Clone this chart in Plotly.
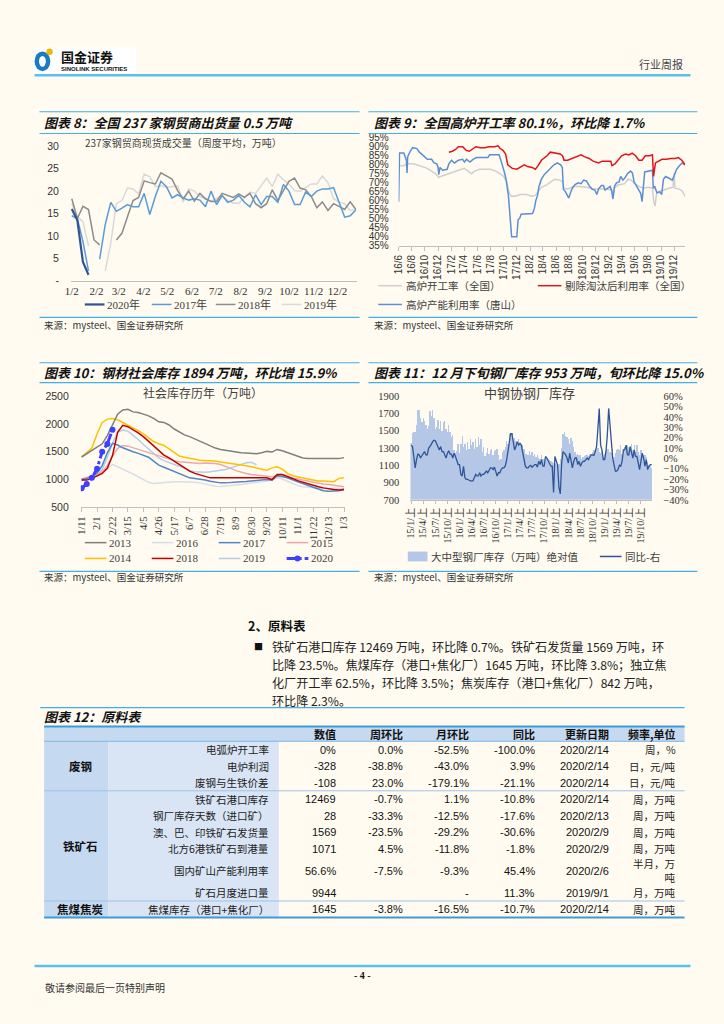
import plotly.graph_objects as go
import pandas as pd

# ====================== DATA ======================
# Chart 8: 237 steel traders weekly volume (10k t), weekly from 1/2
c8_start = "2017-01-02"
c8_ticklabel_dates = ["2017-01-02", "2017-02-02", "2017-03-02", "2017-04-02", "2017-05-02", "2017-06-02",
                      "2017-07-02", "2017-08-02", "2017-09-02", "2017-10-02", "2017-11-02", "2017-12-02"]
c8_2020 = [16.0, 13.5, 4.2, 1.3]
c8_2017 = [14.5, 13.9, 8.8, 2.2, None, 4.8, 12.5, 17.5, 15.5, 16.2, 17.0, 16.5, 16.5, 19.5, 14.8, 18.8,
           22.2, 21.0, 18.5, 19.2, 18.5, 18.0, 18.3, 18.0, 16.5, 20.0, 17.0, 19.0, 17.5, 18.0, 19.0, 17.5,
           16.5, 19.2, 17.0, 18.8, 18.8, 17.5, 21.5, 20.0, 17.0, 17.0, 19.8, 18.8, 20.0, 20.5, 20.5, 20.8,
           17.5, 14.2, 14.5, 15.8]
c8_2018 = [18.3, 13.9, 16.6, 15.9, 9.1, 8.0, None, None, 9.1, 10.6, 14.3, 17.9, 18.6, 22.3, 21.9, 21.6,
           24.1, 23.4, 22.7, 20.1, 18.3, 20.0, 17.8, 19.5, 18.3, 17.7, 17.7, 19.5, 19.0, 18.6, 19.4, 18.6,
           19.5, 17.2, 16.3, 17.2, 20.3, 17.9, 20.1, 22.2, 22.9, 20.7, 20.3, 18.8, 16.3, 17.6, 15.7, 17.2,
           16.6, 15.9, 17.6, 15.9]
c8_2019 = [17.2, 14.3, 13.2, 7.8, None, None, 2.2, 8.4, 17.2, 17.9, 20.7, 20.5, 19.4, 23.8, 23.2, 21.0,
           21.2, 20.8, 21.0, 21.2, 17.6, 20.5, 20.0, 18.8, 18.3, 17.8, 18.3, 19.0, 17.9, 17.3, 17.3, 18.6,
           19.8, 19.5, 21.2, 22.9, 21.0, 23.8, 22.5, 21.6, 20.1, 20.0, 20.8, 21.6, 21.6, 23.4, 21.9, 18.3,
           17.6, 17.2, 15.7, 15.9]

# Chart 9: blast furnace rates (%)
c9_ts_dates = ["2016-06-01", "2016-06-05", "2016-06-25", "2016-07-01", "2016-07-07", "2016-07-10", "2016-07-13",
               "2016-07-25", "2016-08-05", "2016-08-25", "2016-09-05", "2016-09-20", "2016-10-01", "2016-10-12",
               "2016-11-01", "2016-11-12", "2016-11-25", "2016-12-01", "2016-12-04", "2016-12-10", "2016-12-22",
               "2017-01-12", "2017-01-20", "2017-02-01", "2017-02-15", "2017-03-05", "2017-03-25", "2017-04-02",
               "2017-04-12", "2017-04-28", "2017-05-12", "2017-05-28", "2017-07-20", "2017-07-28", "2017-09-10",
               "2017-09-15", "2017-09-23", "2017-10-04", "2017-10-12", "2017-10-23", "2017-11-01", "2017-11-07",
               "2017-12-01", "2017-12-07", "2017-12-15", "2017-12-21", "2018-02-12", "2018-02-20", "2018-02-27",
               "2018-03-07", "2018-03-13", "2018-03-25", "2018-04-07", "2018-04-22", "2018-05-07", "2018-05-22",
               "2018-06-07", "2018-06-22", "2018-06-30", "2018-07-05", "2018-07-15", "2018-07-23", "2018-07-30",
               "2018-08-07", "2018-08-15", "2018-08-28", "2018-09-12", "2018-09-25", "2018-10-07", "2018-10-20",
               "2018-11-01", "2018-11-15", "2018-11-28", "2018-12-07", "2018-12-15", "2018-12-28", "2019-01-07",
               "2019-01-14", "2019-01-25", "2019-02-07", "2019-02-14", "2019-02-20", "2019-02-27", "2019-03-08",
               "2019-03-20", "2019-03-28", "2019-04-07", "2019-04-15", "2019-04-28", "2019-05-12", "2019-05-21",
               "2019-05-29", "2019-06-10", "2019-06-20", "2019-06-29", "2019-07-05", "2019-07-11", "2019-07-17",
               "2019-08-22", "2019-08-26", "2019-09-01", "2019-09-12", "2019-09-25", "2019-10-04", "2019-10-12",
               "2019-10-22", "2019-11-07", "2019-11-22", "2019-12-01", "2019-12-12", "2019-12-25", "2020-01-07",
               "2020-01-20"]
c9_ts_vals = [59.5, 86.5, 86.5, 84.5, 82.5, 75.5, 84.5, 87.5, 89.5, 89, 87, 85.5, 84.5, 83, 83, 81, 80.5, 78.5,
              74.5, 78.5, 77, 77.5, 80.5, 82.5, 81, 82.5, 83, 81.5, 83, 81.5, 83, 84, 84, 85.5, 85.5, 84, 80.5,
              76, 72, 63, 48, 40, 40, 49.5, 50.5, 52.5, 53, 55.5, 60, 63, 67.5, 72, 74.5, 76.5, 78.5, 80, 81, 80,
              78.5, 66.5, 65, 63, 61.5, 64.5, 67, 69, 70, 69.5, 71.5, 71, 68.5, 66.5, 66, 63.5, 66.5, 68.5, 68.5,
              66, 67, 68, 65.5, 61, 68, 70, 70.5, 73.5, 71.5, 72.5, 75, 76.5, 75.5, 70.5, 68, 65.5, 64, 59.5, 69,
              76, 77, 67, 68, 64.5, 65, 63.5, 72, 73.5, 72.5, 71.5, 74, 77.5, 79.5, 81, 80]
c9_all_dates = ["2016-06-01", "2016-06-25", "2016-07-10", "2016-08-05", "2016-08-25", "2016-09-20", "2016-10-12",
                "2016-11-01", "2016-11-20", "2016-12-04", "2016-12-12", "2017-01-05", "2017-02-01", "2017-03-01",
                "2017-04-01", "2017-04-20", "2017-05-05", "2017-05-20", "2017-06-10", "2017-08-01", "2017-08-25",
                "2017-09-15", "2017-10-01", "2017-10-15", "2017-10-25", "2017-11-05", "2017-11-25", "2017-12-15",
                "2018-01-15", "2018-02-10", "2018-02-25", "2018-03-10", "2018-03-25", "2018-04-20", "2018-05-10",
                "2018-05-25", "2018-06-20", "2018-07-01", "2018-07-08", "2018-07-25", "2018-08-20", "2018-09-20",
                "2018-10-20", "2018-11-20", "2018-12-20", "2019-01-20", "2019-02-14", "2019-02-20", "2019-02-27",
                "2019-03-15", "2019-04-15", "2019-05-01", "2019-05-15", "2019-06-01", "2019-06-20", "2019-07-10",
                "2019-08-05", "2019-08-22", "2019-08-28", "2019-09-03", "2019-09-10", "2019-09-25", "2019-10-15",
                "2019-11-05", "2019-11-25", "2019-12-01", "2019-12-04", "2019-12-25", "2020-01-07", "2020-01-20"]
c9_all_vals = [79.5, 79.5, 80.5, 80.5, 80, 79, 78, 76.5, 75, 73, 73.5, 74.5, 75.5, 76.5, 78, 76.5, 75, 76.5, 77.5,
               77.5, 76.5, 75, 73.5, 70.5, 65, 62.5, 62.5, 63.5, 63.5, 62.5, 63, 65, 67.5, 69, 71, 72, 71.5, 70.5,
               67, 66.5, 68, 68, 67.5, 66.5, 66.5, 66.5, 66, 63.5, 67, 68.8, 69.5, 72, 71.5, 69.5, 68, 67, 67.5, 67,
               59.5, 57, 64, 65.5, 66, 67, 67.5, 75.5, 67, 66.5, 65.5, 62.5]
c9_ex_dates = ["2017-01-20", "2017-02-05", "2017-02-20", "2017-03-05", "2017-03-25", "2017-04-10", "2017-04-25",
               "2017-05-10", "2017-05-25", "2017-06-15", "2017-07-05", "2017-07-25", "2017-08-20", "2017-09-05",
               "2017-09-15", "2017-09-28", "2017-10-10", "2017-10-20", "2017-11-10", "2017-12-01", "2017-12-20",
               "2018-01-05", "2018-01-20", "2018-02-10", "2018-02-25", "2018-03-10", "2018-03-25", "2018-04-20",
               "2018-05-05", "2018-05-25", "2018-06-20", "2018-07-01", "2018-07-08", "2018-07-25", "2018-08-15",
               "2018-09-10", "2018-09-25", "2018-10-10", "2018-11-01", "2018-11-20", "2018-12-15", "2019-01-01",
               "2019-01-20", "2019-02-10", "2019-02-15", "2019-03-01", "2019-03-15", "2019-04-01", "2019-04-20",
               "2019-05-05", "2019-05-20", "2019-06-05", "2019-06-20", "2019-07-05", "2019-07-20", "2019-08-10",
               "2019-08-22", "2019-08-27", "2019-09-05", "2019-09-20", "2019-10-05", "2019-10-25", "2019-11-15",
               "2019-12-05", "2019-12-20", "2020-01-05", "2020-01-20"]
c9_ex_vals = [87, 87.5, 88.5, 90, 90, 88, 87.5, 89, 90, 89.5, 89.5, 90, 90, 90.5, 89, 88, 86, 80, 78, 77.5, 79, 80,
              79, 78.5, 77.5, 79.5, 82.5, 85, 87, 86.5, 86, 85, 82.5, 82.5, 83.5, 84.5, 85.5, 84.5, 83.5, 82, 81,
              82, 82, 82, 79.5, 80.5, 82.5, 85, 86, 85.5, 86.5, 85, 82.5, 82.5, 85, 85, 85.5, 73.5, 81, 82, 83, 83,
              83.5, 83.5, 84, 82.5, 80]
c9_tick_start, c9_tick_end = "2016-06-01", "2019-12-01"

# Chart 10: social steel inventory by year (10k t), weekly
c10_ticklabels = ["1/11", "2/1", "2/22", "3/15", "4/5", "4/26", "5/17", "6/7", "6/28", "7/19", "8/9", "8/30",
                  "9/20", "10/11", "11/1", "11/22", "12/13", "1/3"]
c10_2013 = [1405, 1464, 1524, 1583, 1642, 1790, 1997, 2175, 2251, 2263, 2216, 2204, 2175, 2145, 2098, 2038, 2027,
            1980, 1908, 1849, 1802, 1772, 1731, 1683, 1642, 1601, 1565, 1541, 1524, 1506, 1494, 1482, 1476, 1465,
            1465, 1482, 1506, 1494, 1541, 1518, 1482, 1447, 1411, 1388, 1376, 1376, 1370, 1364, 1364, 1364, 1376,
            1394]
c10_2014 = [1405, 1482, 1565, 1820, 2027, 2086, 2098, 2074, 2027, 1968, 1920, 1879, 1820, 1743, 1683, 1642, 1612,
            1553, 1482, 1423, 1400, 1388, 1364, 1346, 1346, 1346, 1334, 1317, 1305, 1287, 1269, 1257, 1246, 1228,
            1210, 1186, 1169, 1210, 1228, 1186, 1110, 1068, 1044, 1033, 1009, 991, 973, 973, 973, 962, 1021, 1033]
c10_2015 = [1010, 1030, 1060, 1100, 1140, 1250, 1420, 1560, 1610, 1600, 1570, 1540, 1510, 1480, 1450, 1420, 1390,
            1360, 1340, 1320, 1310, 1300, 1295, 1290, 1295, 1295, 1290, 1270, 1240, 1200, 1160, 1130, 1110, 1090,
            1080, 1070, 1060, 1050, 1060, 1050, 1040, 1030, 1010, 990, 970, 950, 930, 920, 910, 900, 880, 870]
c10_2016 = [1000, 1010, 1030, 1060, 1120, 1200, 1270, 1230, 1190, 1150, 1100, 1050, 1000, 950, 930, 940, 950, 955,
            960, 960, 960, 955, 950, 940, 920, 900, 880, 875, 880, 890, 900, 910, 920, 930, 940, 960, 975, 990,
            1030, 1010, 970, 930, 890, 870, 860, 850, 845, 840, 838, 835, 835, 835]
c10_2017 = [1000, 1020, 1060, 1120, 1250, 1480, 1650, 1620, 1570, 1530, 1500, 1470, 1440, 1400, 1330, 1260, 1220,
            1180, 1140, 1100, 1060, 1030, 1020, 1010, 990, 970, 950, 940, 940, 950, 960, 960, 965, 970, 980, 990,
            1000, 990, 1070, 1060, 1030, 990, 960, 930, 890, 860, 830, 800, 790, 790, 800, 830]
c10_2018 = [990, 990, 1020, 1060, 1110, 1200, 1430, 1850, 1975, 1950, 1900, 1840, 1770, 1690, 1600, 1520, 1440,
            1390, 1330, 1260, 1200, 1150, 1110, 1080, 1050, 1030, 1030, 1030, 1020, 1020, 1020, 1020, 1030, 1030,
            1020, 1030, 1030, 1000, 1090, 1090, 1060, 1020, 980, 950, 920, 890, 870, 850, 830, 820, 810, 815]
c10_2019 = [980, 1000, 1030, 1080, 1180, 1400, 1650, 1850, 1890, 1870, 1800, 1720, 1630, 1550, 1470, 1390, 1340,
            1300, 1270, 1240, 1200, 1160, 1140, 1130, 1130, 1140, 1150, 1160, 1180, 1210, 1240, 1270, 1300, 1310,
            1265]
c10_2020 = [843, 920, 1030, 1195, 1500, 1640, 1894]

# Chart 11: CISA mill inventory (10k t, dekadal) and YoY (%)
c11_ticklabels = ["15/1/上", "15/4/上", "15/7/上", "15/10/上", "16/1/上", "16/4/上", "16/7/上", "16/10/上",
                  "17/1/上", "17/4/上", "17/7/上", "17/10/上", "18/1/上", "18/4/上", "18/7/上", "18/10/上",
                  "19/1/上", "19/4/上", "19/7/上", "19/10/上"]
c11_stock = [1360, 1470, 1480, 1480, 1560, 1740, 1740, 1650, 1595, 1650, 1614, 1560, 1519, 1557, 1729,
             1664, 1740, 1641, 1519, 1538, 1626, 1519, 1614, 1500, 1595, 1614, 1519, 1481, 1560, 1481,
             1424, 1450, 1271, 1245, 1260, 1348, 1245, 1348, 1443, 1309, 1348, 1271, 1367, 1290, 1405,
             1329, 1367, 1290, 1405, 1309, 1424, 1329, 1400, 1252, 1309, 1207, 1245, 1300, 1233, 1271,
             1290, 1222, 1260, 1271, 1290, 1222, 1157, 1176, 1250, 1271, 1309, 1386, 1348, 1462, 1420,
             1473, 1405, 1420, 1386, 1348, 1400, 1348, 1309, 1330, 1290, 1233, 1233, 1214, 1260, 1222,
             1252, 1207, 1233, 1195, 1214, 1180, 1176, 1214, 1176, 1169, 1157, 1180, 1176, 1157, 1145,
             1138, 1130, 1119, 1108, 1092, 1119, 1176, 1300, 1462, 1481, 1443, 1424, 1405, 1348, 1420,
             1380, 1309, 1250, 1214, 1233, 1214, 1214, 1176, 1200, 1207, 1214, 1222, 1207, 1233, 1230,
             1252, 1271, 1290, 1290, 1300, 1250, 1240, 1270, 1200, 1230, 1260, 1290, 1290, 1250, 1240,
             1290, 1195, 1240, 1271, 1290, 1271, 1329, 1233, 1290, 1309, 1271, 1336, 1309, 1290, 1348,
             1271, 1329, 1252, 1329, 1252, 1214, 1271, 1207, 1214, 1214, 1195, 1138, 1108, 1090, 1070]
c11_yoy = [12.8, 11.3, 1.8, -9.2, -1.3, 4.0, 3.4, 0.3, 2.5, 5.0, 6.5, 3.4, 3.4, 9.7, 11.3,
           13.5, 16.0, 17.5, 17.0, 14.4, 11.3, 8.1, 11.3, 6.5, 6.5, 3.4, 0.3, 5.0, 7.2, 4.0,
           4.0, 0.3, 5.0, 1.8, -2.9, -6.0, -6.0, -15.5, -17.0, -7.6, -18.6, -20.2, -20.2, -21.1, -21.8,
           -21.8, -21.8, -18.6, -15.5, -17.0, -17.0, -13.9, -17.0, -15.5, -15.5, -13.9, -12.3, -13.9, -10.8, -9.2,
           -9.2, -10.8, -8.5, -12.0, -17.0, -13.9, -13.9, -10.8, -9.2, -9.2, -7.6, -2.3, 6.5, 12.8, 23.8,
           23.8, 14.4, 8.1, 11.3, 16.0, 12.8, 14.4, 12.8, 5.0, 0.3, -7.6, -9.2, -9.2, -7.6, -6.7,
           -8.5, -6.7, -6.0, -6.0, -8.5, -2.9, -6.0, -1.3, -7.6, -7.6, 1.8, 0.3, -2.9, -6.0, -7.6,
           -7.6, -32.8, 1.8, -2.9, -6.7, -28.1, -34.3, -5.0, 6.5, 5.0, 3.4, 0.3, -4.5, 5.0, -2.0,
           -9.2, -2.9, 0.3, 0.3, -6.0, -2.9, -7.6, -4.5, -2.9, -2.9, -1.3, 0.3, -1.3, 1.8, 3.4,
           3.4, 2.8, 6.5, 11.3, 28.6, 48.1, 12.8, 8.1, -1.3, -1.3, 6.5, 22.3, 48.1, 28.6, 9.7,
           0.3, -6.0, -12.3, -12.3, -10.8, -6.7, -7.6, -2.9, 8.1, 8.1, 12.8, 3.4, 3.4, 11.3, 6.5,
           0.3, 8.1, 1.8, 1.8, -4.5, -10.8, -3.0, 5.0, 0.3, -7.6, -1.3, -10.8, -7.6, -6.0, -6.0]

# Table 12: raw materials
t_header = ["数值", "周环比", "月环比", "同比", "更新日期", "频率,单位"]
t_names = ["电弧炉开工率", "电炉利润", "废钢与生铁价差", "铁矿石港口库存", "钢厂库存天数（进口矿）",
           "澳、巴、印铁矿石发货量", "北方6港铁矿石到港量", "国内矿山产能利用率", "矿石月度进口量",
           "焦煤库存（港口+焦化厂）"]
t_value = ["0%", "-328", "-108", "12469", "28", "1569", "1071", "56.6%", "9944", "1645"]
t_wow = ["0.0%", "-38.8%", "23.0%", "-0.7%", "-33.3%", "-23.5%", "4.5%", "-7.5%", "", "-3.8%"]
t_mom = ["-52.5%", "-43.0%", "-179.1%", "1.1%", "-12.5%", "-29.2%", "-11.8%", "-9.3%", "-", "-16.5%"]
t_yoy = ["-100.0%", "3.9%", "-21.1%", "-10.8%", "-17.6%", "-30.6%", "-1.8%", "45.4%", "11.3%", "-10.7%"]
t_date = ["2020/2/14", "2020/2/14", "2020/2/14", "2020/2/14", "2020/2/13", "2020/2/9", "2020/2/9",
          "2020/2/6", "2019/9/1", "2020/2/14"]
t_unit = ["周，%", "日，元/吨", "日，元/吨", "周，万吨", "周，万吨", "周，万吨", "周，万吨", "半月，万<br>吨",
          "月，万吨", "周，万吨"]
t_groups = [("废钢", 0, 3), ("铁矿石", 3, 9), ("焦煤焦炭", 9, 10)]

para_lines = ["铁矿石港口库存 12469 万吨，环比降 0.7%。铁矿石发货量 1569 万吨，环",
              "比降 23.5%。焦煤库存（港口+焦化厂）1645 万吨，环比降 3.8%；独立焦",
              "化厂开工率 62.5%，环比降 3.5%；焦炭库存（港口+焦化厂）842 万吨，",
              "环比降 2.3%。"]

# ====================== STYLE / HELPERS ======================
W, H = 724, 1024
BG = "#FFFBF0"
CJK = "Noto Sans CJK SC"
SANS = "Liberation Sans, Noto Sans CJK SC"
SERIF = "Liberation Serif, Noto Sans CJK SC"
RULE = "#45AEE3"
TXT = "#333333"
AXC = "#BFBFBF"


def X(px):
    return px / W


def Y(py):
    return 1 - py / H


shapes, annots = [], []


def hline(x0, x1, y, color=RULE, width=1.0, dash="solid"):
    shapes.append(dict(type="line", xref="paper", yref="paper", x0=X(x0), x1=X(x1), y0=Y(y), y1=Y(y),
                       line=dict(color=color, width=width, dash=dash)))


def rect(x0, y0, x1, y1, fill):
    shapes.append(dict(type="rect", xref="paper", yref="paper", x0=X(x0), x1=X(x1), y0=Y(y1), y1=Y(y0),
                       fillcolor=fill, line=dict(width=0), layer="below"))


def circ(x0, y0, x1, y1, fill):
    shapes.append(dict(type="circle", xref="paper", yref="paper", x0=X(x0), x1=X(x1), y0=Y(y1), y1=Y(y0),
                       fillcolor=fill, line=dict(width=0)))


def text(x, y, s, size=10, color=TXT, family=CJK, anchor="left", weight="normal", style="normal",
         align="left"):
    annots.append(dict(xref="paper", yref="paper", x=X(x), y=Y(y), text=s, showarrow=False, xanchor=anchor,
                       yanchor="middle", align=align, borderpad=0,
                       font=dict(family=family, size=size, color=color, weight=weight, style=style)))


def title(x, y, s):
    text(x, y, s, size=13, color="#111111", weight="bold", style="italic")


fig = go.Figure()

# ====================== CHART 8 ======================
c8_dates = pd.date_range(c8_start, periods=len(c8_2017), freq="7D")
c8_series = [("2019年", c8_2019, "#D9D9D9", 1.5), ("2018年", c8_2018, "#8C8C8C", 1.5),
             ("2017年", c8_2017, "#5B9BD5", 1.5), ("2020年", c8_2020, "#2F5597", 2.2)]
for nm, vals, col, wd in c8_series:
    fig.add_trace(go.Scatter(x=c8_dates[:len(vals)], y=vals, mode="lines", name=nm,
                             line=dict(color=col, width=wd), xaxis="x", yaxis="y", showlegend=False))

# ====================== CHART 9 ======================
fig.add_trace(go.Scatter(x=c9_all_dates, y=c9_all_vals, mode="lines", line=dict(color="#CFCFCF", width=1.5),
                         xaxis="x2", yaxis="y2", showlegend=False))
fig.add_trace(go.Scatter(x=c9_ts_dates, y=c9_ts_vals, mode="lines", line=dict(color="#5B8FD5", width=1.5),
                         xaxis="x2", yaxis="y2", showlegend=False))
fig.add_trace(go.Scatter(x=c9_ex_dates, y=c9_ex_vals, mode="lines", line=dict(color="#E0141E", width=1.5),
                         xaxis="x2", yaxis="y2", showlegend=False))

# ====================== CHART 10 ======================
c10_series = [("2016", c10_2016, "#D9DEE8"), ("2019", c10_2019, "#B4CDEA"), ("2015", c10_2015, "#EDA9A9"),
              ("2017", c10_2017, "#4F86C6"), ("2014", c10_2014, "#FFC000"), ("2013", c10_2013, "#7F7F7F"),
              ("2018", c10_2018, "#C00000")]
for nm, vals, col in c10_series:
    fig.add_trace(go.Scatter(x=list(range(len(vals))), y=vals, mode="lines", line=dict(color=col, width=1.5),
                             xaxis="x3", yaxis="y3", showlegend=False))
fig.add_trace(go.Scatter(x=list(range(len(c10_2020))), y=c10_2020, mode="lines+markers",
                         line=dict(color="#3F3FFF", width=3, dash="dashdot"),
                         marker=dict(color="#3F3FFF", size=6), xaxis="x3", yaxis="y3", showlegend=False))

# ====================== CHART 11 ======================
fig.add_trace(go.Bar(x=list(range(len(c11_stock))), y=c11_stock, marker=dict(color="#B4C7E7", line=dict(width=0)),
                     xaxis="x4", yaxis="y4", showlegend=False))
fig.add_trace(go.Scatter(x=list(range(len(c11_yoy))), y=c11_yoy, mode="lines", line=dict(color="#2F5597", width=1.3),
                         xaxis="x4", yaxis="y5", showlegend=False))

# ====================== AXES ======================
noaxis = dict(showgrid=False, zeroline=False)
layout_axes = dict(
    xaxis=dict(**noaxis, domain=[X(66), X(356)], anchor="y", type="date", range=["2017-01-01", "2017-12-26"],
               tickvals=c8_ticklabel_dates, tickformat="%-m/%-d", showline=True, linecolor=AXC, ticks="",
               tickfont=dict(family=SERIF, size=11, color=TXT)),
    yaxis=dict(**noaxis, domain=[Y(278), Y(142)], anchor="x", range=[0, 30], tickvals=[0, 5, 10, 15, 20, 25, 30],
               ticktext=["-", "5", "10", "15", "20", "25", "30"], ticks="outside", ticklen=9, tickcolor="rgba(0,0,0,0)",
               tickfont=dict(family=SANS, size=10.5, color=TXT)),
    xaxis2=dict(**noaxis, domain=[X(398.7), X(689.7)], anchor="y2", type="date", range=["2016-06-01", "2020-01-21"],
                tickvals=list(pd.date_range(c9_tick_start, c9_tick_end, freq="2MS")), tickformat="%y/%-m",
                tickangle=-90, showline=True, linecolor=AXC, ticks="outside", ticklen=4, tickcolor=AXC,
                tickfont=dict(family=SANS, size=10, color=TXT)),
    yaxis2=dict(**noaxis, domain=[Y(242.7), Y(133.3)], anchor="x2", range=[35, 95], dtick=5, tick0=35,
                ticksuffix="%", ticks="outside", ticklen=7, tickcolor="rgba(0,0,0,0)",
                tickfont=dict(family=SANS, size=10, color=TXT)),
    xaxis3=dict(**noaxis, domain=[X(76), X(344)], anchor="y3", range=[-0.15, 51.15],
                tickvals=[3 * i for i in range(len(c10_ticklabels))], ticktext=c10_ticklabels, tickangle=-90,
                showline=True, linecolor=AXC, ticks="outside", ticklen=4, tickcolor=AXC,
                tickfont=dict(family=SERIF, size=10.5, color=TXT)),
    yaxis3=dict(**noaxis, domain=[Y(507.3), Y(394.7)], anchor="x3", range=[500, 2500], dtick=500,
                ticks="outside", ticklen=9, tickcolor="rgba(0,0,0,0)",
                tickfont=dict(family=SANS, size=10.5, color=TXT)),
    xaxis4=dict(**noaxis, domain=[X(410.7), X(656.3)], anchor="y4", range=[-0.5, len(c11_stock) - 0.5],
                tickvals=[9 * i for i in range(len(c11_ticklabels))], ticktext=c11_ticklabels, tickangle=-90,
                showline=True, linecolor=AXC, ticks="outside", ticklen=3, tickcolor=AXC,
                tickfont=dict(family=SERIF, size=10, color=TXT)),
    yaxis4=dict(**noaxis, domain=[Y(499.7), Y(394.7)], anchor="x4", range=[700, 1900], dtick=200, tick0=700,
                ticks="outside", ticklen=8, tickcolor="rgba(0,0,0,0)",
                tickfont=dict(family=SERIF, size=10.5, color=TXT)),
    yaxis5=dict(**noaxis, overlaying="y4", side="right", anchor="x4", range=[-40, 60], dtick=10, tick0=-40,
                ticksuffix="%", ticks="outside", ticklen=8, tickcolor="rgba(0,0,0,0)",
                tickfont=dict(family=SERIF, size=10.5, color=TXT)),
)

# ====================== PAGE DECORATION ======================
# header
rect(28, 42, 132, 68, "#FFFFFF")
circ(29, 46, 45, 66, "#1A7BC4")
circ(33.5, 50.5, 40.5, 61.5, "#FFFFFF")
circ(41, 43, 47.5, 49.5, "#F2B705")
text(55, 51, "国金证券", size=13, color="#111111", weight="bold")
text(55, 63.5, "SINOLINK SECURITIES", size=6, color="#111111", family="Liberation Sans", weight="bold")
hline(29, 695, 70, color="#5BC0EB", width=2.5)
text(688, 58.5, "行业周报", size=11, color="#444444", anchor="right")
# footer
hline(29, 695, 971.5, color="#5BC0EB", width=2.5)
text(362, 980.5, "- 4 -", size=10, color="#111111", family="Liberation Serif", weight="bold", anchor="center")
text(39, 993, "敬请参阅最后一页特别声明", size=10, color="#333333")

# chart blocks
blocks = [(34, 359, 38), (368, 702, 373)]
for (bx0, bx1, tx), (ytop, ybot, ysrc_line, ysrc) in [(b, r) for r in [(107, 129, 315, 323), (361, 381, 572, 578)]
                                                      for b in blocks]:
    hline(bx0, bx1, ytop, width=1.2)
    hline(bx0, bx1, ybot, width=1.2)
    hline(bx0, bx1, ysrc_line, width=1.2)
    text(tx, ysrc, "来源：mysteel、国金证券研究所", size=9.5, color="#333333")

title(38, 118, "图表 8：全国 237 家钢贸商出货量 0.5 万吨")
title(373, 118, "图表 9：全国高炉开工率 80.1%，环比降 1.7%")
title(38, 371, "图表 10：钢材社会库存 1894 万吨，环比增 15.9%")
title(373, 371, "图表 11：12 月下旬钢厂库存 953 万吨，旬环比降 15.0%")

# chart 8 subtitle & legend
text(180, 138.5, "237家钢贸商现货成交量（周度平均，万吨）", size=10, color="#404040", anchor="center")
for i, (nm, vals, col, wd) in enumerate(reversed(c8_series)):
    lx = [80, 148, 213, 280][i]
    hline(lx, lx + 20, 302, color=col, width=wd)
    text(lx + 22, 302, nm, size=11, color="#404040", family=SERIF)

# chart 9 legend
for lx, ly, col, nm in [(378, 283, "#CFCFCF", "高炉开工率（全国）"), (540, 283, "#E0141E", "剔除淘汰后利用率（全国）"),
                        (378, 302, "#5B8FD5", "高炉产能利用率（唐山）")]:
    hline(lx, lx + 24, ly, color=col, width=1.5)
    text(lx + 27, ly, nm, size=10.5, color="#404040")

# chart 10 subtitle & legend
text(200, 391, "社会库存历年（万吨）", size=12, color="#404040", anchor="center")
c10_leg = [("2013", "#7F7F7F"), ("2016", "#D9DEE8"), ("2017", "#4F86C6"), ("2015", "#EDA9A9"),
           ("2014", "#FFC000"), ("2018", "#C00000"), ("2019", "#B4CDEA"), ("2020", "#3F3FFF")]
for i, (nm, col) in enumerate(c10_leg):
    lx = [80, 148, 216, 285][i % 4]
    ly = [543, 559][i // 4]
    if nm == "2020":
        hline(lx, lx + 22, ly, color=col, width=3, dash="dashdot")
        circ(lx + 8, ly - 3, lx + 14, ly + 3, col)
    else:
        hline(lx, lx + 22, ly, color=col, width=1.5)
    text(lx + 24, ly, nm, size=11, color="#404040", family=SERIF)

# chart 11 subtitle & legend
text(532, 391, "中钢协钢厂库存", size=13, color="#404040", anchor="center")
rect(408, 552, 428, 562, "#B4C7E7")
text(431, 557, "大中型钢厂库存（万吨）绝对值", size=10.5, color="#404040")
hline(603, 625, 557, color="#2F5597", width=1.5)
text(628, 557, "同比-右", size=10.5, color="#404040")

# ====================== TEXT SECTION ======================
text(245, 627, "2、原料表", size=12.5, color="#111111", weight="bold")
text(251, 648, "■", size=9, color="#111111")
for i, ln in enumerate(para_lines):
    text(269, 648 + 18.3 * i, ln, size=12.1, color="#222222")

# ====================== TABLE ======================
TL, TR = 38.7, 689
title(38, 719, "图表 12：原料表")
hline(TL - 4, TR, 710, width=1.2)
HEAD_TOP, HEAD_BOT = 729, 744
rect(TL, HEAD_TOP, TR, HEAD_BOT, "#C5D9F0")
hline(TL, TR, HEAD_TOP, color="#3E9BD6", width=2)
hline(TL, TR, HEAD_BOT, color="#7FB7E3", width=1)
col_right = [335.7, 403.8, 471.5, 538.2, 613.3, 681]
for cx, h in zip(col_right, t_header):
    text(cx, (HEAD_TOP + HEAD_BOT) / 2, h, size=11, color="#111111", weight="bold", anchor="right")

row_h = [16.7, 16.7, 16.7, 16.7, 16.7, 16.7, 16.7, 28.0, 16.7, 16.7]
row_top = [HEAD_BOT]
for hgt in row_h:
    row_top.append(row_top[-1] + hgt)
CAT_R, NAME_R = 104, 277
rect(TL, HEAD_BOT, CAT_R, row_top[-1], "#C5D9F0")
rect(CAT_R, HEAD_BOT, NAME_R, row_top[-1], "#D9E5F4")
for gname, g0, g1 in t_groups:
    text((TL + CAT_R) / 2 + 4, (row_top[g0] + row_top[g1]) / 2, gname, size=11.5, color="#111111",
         weight="bold", anchor="center")
    if g1 < len(t_names):
        hline(TL, TR, row_top[g1], color="#9CC3E8", width=1)
for i in range(len(t_names)):
    cy = (row_top[i] + row_top[i + 1]) / 2
    text(268.5, cy, t_names[i], size=10.5, color="#222222", anchor="right")
    for cx, col in zip(col_right[:5], [t_value, t_wow, t_mom, t_yoy, t_date]):
        if col[i]:
            text(cx, cy, col[i], size=11, color="#111111", family="Liberation Sans", anchor="right")
    text(col_right[5], cy, t_unit[i], size=10.5, color="#222222", anchor="right", align="right")
hline(TL, TR, row_top[-1], color="#3E9BD6", width=2)

fig.update_layout(
    width=W, height=H, margin=dict(l=0, r=0, t=0, b=0), autosize=False,
    paper_bgcolor=BG, plot_bgcolor="rgba(0,0,0,0)", showlegend=False, bargap=0,
    hovermode=False, shapes=shapes, annotations=annots, **layout_axes,
)
fig.write_html("out.html", config={"displayModeBar": False, "staticPlot": True},
               post_script="document.body.style.margin='0';document.body.style.background='#FFFBF0';")
